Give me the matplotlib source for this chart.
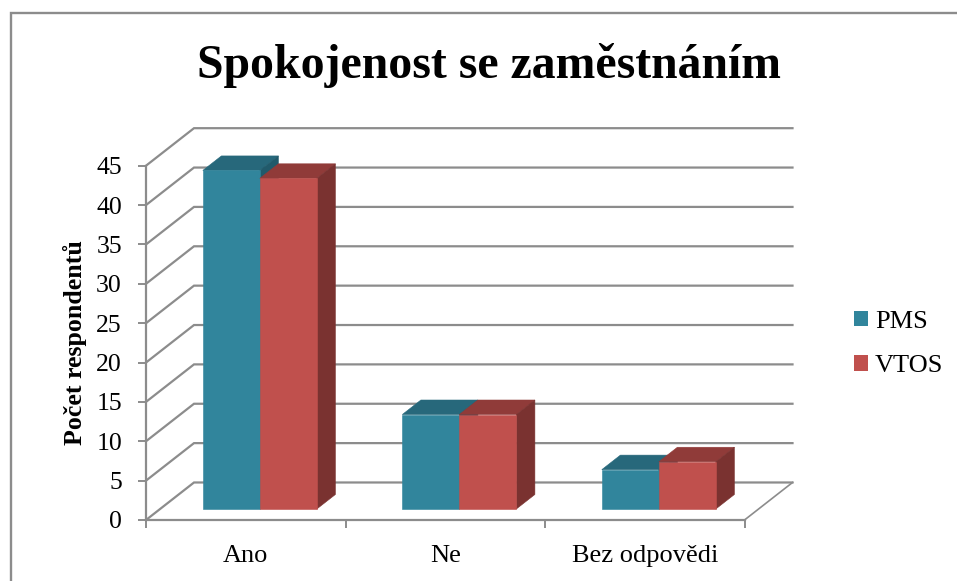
import matplotlib
matplotlib.use("Agg")
import matplotlib.pyplot as plt
from matplotlib.lines import Line2D
from matplotlib.patches import Patch, Polygon

plt.rcParams["font.family"] = ["Liberation Serif", "DejaVu Serif"]

# ----------------------------
# Data
# ----------------------------

categories = ["Ano", "Ne", "Bez odpovědi"]
series_names = ["PMS", "VTOS"]
pms_values = [43, 12, 5]
vtos_values = [42, 12, 6]
y_ticks = [0, 5, 10, 15, 20, 25, 30, 35, 40, 45]

# ----------------------------
# Styles
# ----------------------------

W, H = 957, 581
GREY = "#8c8c8c"
PMS_COLORS = ("#31859c", "#27687b", "#215a6b")
VTOS_COLORS = ("#c0504d", "#903b39", "#7a3230")

# oblique projection: how far the back wall is shifted, in data units
DEPTH_X = 48 / 199.5
DEPTH_Y = 37.5 / 7.87
BAR_FRONT = 0.293
BAR_BACK = 0.68
GAP = 0.2143
BAR_W = 0.2857


def project(x, v, depth):
    return x + depth * DEPTH_X, v + depth * DEPTH_Y


def draw_bar(ax, left, value, colors, z):
    right = left + BAR_W
    front = [project(left, 0, BAR_FRONT), project(right, 0, BAR_FRONT),
             project(right, value, BAR_FRONT), project(left, value, BAR_FRONT)]
    top = [project(left, value, BAR_FRONT), project(right, value, BAR_FRONT),
           project(right, value, BAR_BACK), project(left, value, BAR_BACK)]
    side = [project(right, 0, BAR_FRONT), project(right, 0, BAR_BACK),
            project(right, value, BAR_BACK), project(right, value, BAR_FRONT)]
    for pts, color in zip((top, side, front), (colors[1], colors[2], colors[0])):
        ax.add_patch(Polygon(pts, closed=True, facecolor=color, edgecolor=color,
                             linewidth=0.4, zorder=z, clip_on=False))


# ----------------------------
# Figure
# ----------------------------

fig = plt.figure(figsize=(W / 100, H / 100), dpi=100)

# chart frame, only the left and top edges are in the picture
fig.add_artist(Line2D([10.5 / W, 10.5 / W, 1], [0, 1 - 13 / H, 1 - 13 / H], color=GREY, lw=1.7,
                      solid_joinstyle="miter", transform=fig.transFigure, zorder=-1))

ax = fig.add_axes([146 / W, 1 - 520 / H, 598.5 / W, 354.3 / H])
ax.set_xlim(0, len(categories))
ax.set_ylim(0, 45)
ax.patch.set_alpha(0)

# walls and floor
for v in y_ticks:
    x0, y0 = project(0, v, 0)
    x1, y1 = project(0, v, 1)
    x2, y2 = project(len(categories), v, 1)
    ax.plot([x0, x1, x2], [y0, y1, y2], color=GREY, lw=1.6, clip_on=False, zorder=1,
            solid_joinstyle="miter")
x0, y0 = project(len(categories), 0, 0)
x1, y1 = project(len(categories), 0, 1)
ax.plot([x0, x1], [y0, y1], color=GREY, lw=1.2, clip_on=False, zorder=1)

# bars
for i in range(len(categories)):
    draw_bar(ax, i + GAP, pms_values[i], PMS_COLORS, 3)
    draw_bar(ax, i + GAP + BAR_W, vtos_values[i], VTOS_COLORS, 4)

# axes
for name in ["top", "right"]:
    ax.spines[name].set_visible(False)
for name in ["left", "bottom"]:
    ax.spines[name].set_color(GREY)
    ax.spines[name].set_linewidth(1.6)

ax.set_yticks(y_ticks)
ax.set_xticks(range(len(categories) + 1))
ax.set_xticklabels([])
ax.set_xticks([i + 0.5 for i in range(len(categories))], labels=categories, minor=True)
ax.tick_params(axis="x", which="major", length=6, width=1.4, color=GREY)
ax.tick_params(axis="x", which="minor", length=0, labelsize=19, pad=18)
ax.tick_params(axis="y", length=5.8, width=1.4, color=GREY, labelsize=18.5, pad=11.5)

ax.set_ylabel("Počet respondentů", fontsize=18.6, fontweight="bold")
ax.yaxis.set_label_coords(-59 / 598.5, 0.5)

fig.text(489 / W, 1 - 65 / H, "Spokojenost se zaměstnáním", fontsize=34.4, fontweight="bold",
         ha="center", va="center")

handles = [Patch(facecolor=PMS_COLORS[0]), Patch(facecolor=VTOS_COLORS[0])]
fig.legend(handles, series_names, loc="center left", bbox_to_anchor=(854 / W, 1 - 344 / H),
           frameon=False, fontsize=19, handlelength=0.53, handleheight=0.53,
           handletextpad=0.26, labelspacing=0.84, borderpad=0, borderaxespad=0)

plt.savefig("out.png", dpi=100)
plt.close()
